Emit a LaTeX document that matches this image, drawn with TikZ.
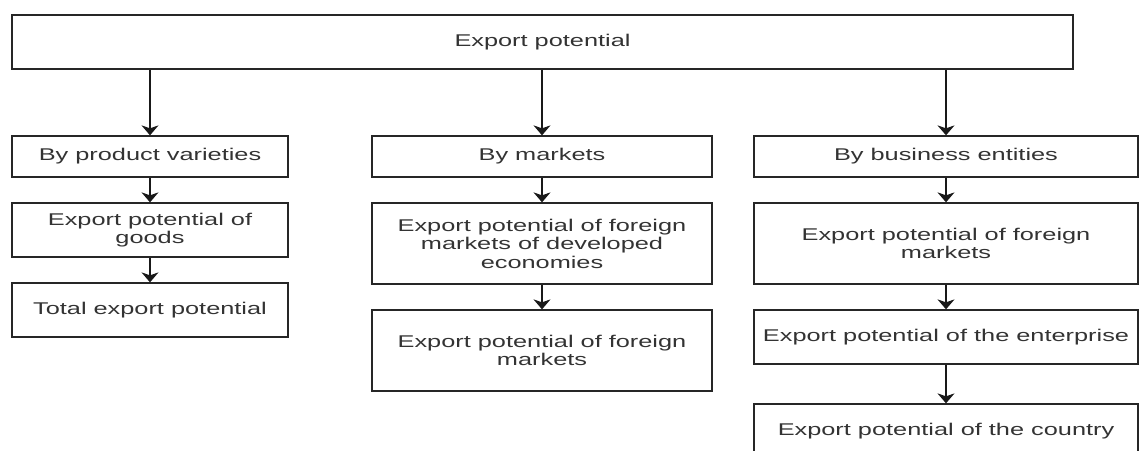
\documentclass[tikz,border=0pt]{standalone}
\usepackage{fontspec}
\newfontfamily\boxfont{Liberation Sans}[FakeStretch=1.49]
\usetikzlibrary{arrows.meta}

\begin{document}
\begin{tikzpicture}%
        [x=1pt, y=-1pt,
        box/.style={draw=black!85, line width=1.3pt, inner sep=0pt, align=center,
            text=black!80, font=\boxfont\fontsize{17}{18.5}\selectfont},
        colA/.style={box, minimum width=276pt},
        colB/.style={box, minimum width=340pt},
        colC/.style={box, minimum width=384pt},
        short/.style={minimum height=41pt},
        mid/.style={minimum height=54pt},
        tall/.style={minimum height=81pt},
        link/.style={draw=black!90, line width=1.3pt,
            -{Stealth[length=10pt, width=17pt, inset=3pt]}}]

    \useasboundingbox (0,0) rectangle (1139,450);
    \clip (0,0) rectangle (1139,450);
    %% Top box
    \node[box, minimum width=1061pt, minimum height=54pt] (top) at (542.5,42) {Export potential};
    %%
    %% By product varieties
    \node[colA, short] (prod)  at (150,156.5) {By product varieties};
    \node[colA, mid]   (goods) at (150,230)   {Export potential of\\goods};
    \node[colA, mid]   (total) at (150,310)   {Total export potential};
    %%
    %% By markets
    \node[colB, short] (mark)  at (542,156.5) {By markets};
    \node[colB, tall]  (devel) at (542,243.5) {Export potential of foreign\\markets of developed\\economies};
    \node[colB, tall]  (forgn) at (542,350.5) {Export potential of foreign\\markets};
    %%
    %% By business entities
    \node[colC, short] (bus)     at (946,156.5) {By business entities};
    \node[colC, tall]  (fmark)   at (946,243.5) {Export potential of foreign\\markets};
    \node[colC, mid]   (enter)   at (946,337)   {Export potential of the enterprise};
    \node[colC, mid]   (country) at (946,431)   {Export potential of the country};
    %%
    %% Arrows
    \draw[link] (prod.north |- top.south) -- (prod.north);
    \draw[link] (mark.north |- top.south) -- (mark.north);
    \draw[link] (bus.north |- top.south) -- (bus.north);
    \draw[link] (prod) -- (goods);
    \draw[link] (goods) -- (total);
    \draw[link] (mark) -- (devel);
    \draw[link] (devel) -- (forgn);
    \draw[link] (bus) -- (fmark);
    \draw[link] (fmark) -- (enter);
    \draw[link] (enter) -- (country);
    %%
\end{tikzpicture}
\end{document}
